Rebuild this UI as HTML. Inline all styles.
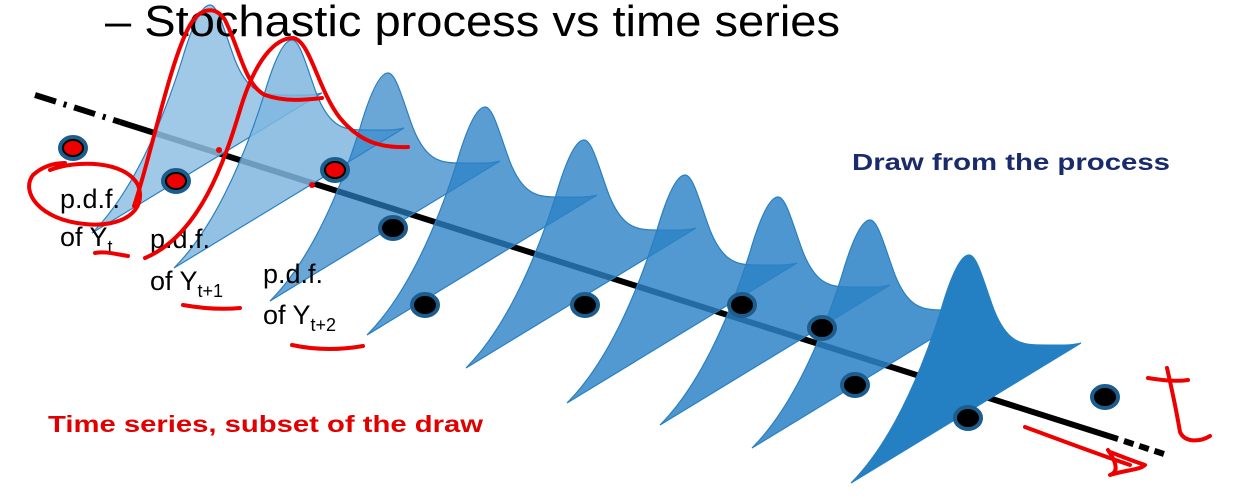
<!DOCTYPE html>
<html><head><meta charset="utf-8"><style>
html,body{margin:0;padding:0;background:#fff;}
svg{display:block;}
text{font-family:"Liberation Sans",sans-serif;}
</style></head><body>
<svg width="1255" height="503" viewBox="0 0 1255 503" xmlns="http://www.w3.org/2000/svg">
<defs>
<path id="pdf" d="M-118,228 C-80,190 -50,125 -28,55 C-16,14 -7,0 0,0 C8,0 14,25 25,55 C37,85 50,90 70,90 C88,90 102,91 112,88 Z"/>
</defs>
<line x1="35" y1="95" x2="120" y2="122" stroke="#000" stroke-width="6" stroke-dasharray="22,8,3,8"/>
<line x1="120" y1="122" x2="1118" y2="439" stroke="#000" stroke-width="6"/>
<line x1="1124" y1="441" x2="1167" y2="455" stroke="#000" stroke-width="6" stroke-dasharray="10,6"/>
<use href="#pdf" x="210" y="5" fill="#8fbfe3" fill-opacity="0.85" stroke="#2a7fc0" stroke-width="1.2"/>
<use href="#pdf" x="292" y="40" fill="#7fb6df" fill-opacity="0.85" stroke="#2a7fc0" stroke-width="1.2"/>
<use href="#pdf" x="388" y="73" fill="#2b82c6" fill-opacity="0.7" stroke="#2a7fc0" stroke-width="1.2"/>
<use href="#pdf" x="485" y="107" fill="#2b82c6" fill-opacity="0.78" stroke="#2a7fc0" stroke-width="1.2"/>
<use href="#pdf" x="584" y="140" fill="#2b82c6" fill-opacity="0.8" stroke="#2a7fc0" stroke-width="1.2"/>
<use href="#pdf" x="685" y="175" fill="#2b82c6" fill-opacity="0.82" stroke="#2a7fc0" stroke-width="1.2"/>
<use href="#pdf" x="778" y="197" fill="#2b82c6" fill-opacity="0.84" stroke="#2a7fc0" stroke-width="1.2"/>
<use href="#pdf" x="870" y="220" fill="#2b82c6" fill-opacity="0.86" stroke="#2a7fc0" stroke-width="1.2"/>
<use href="#pdf" x="969" y="255" fill="#2580c3" stroke="#2580c3" stroke-width="1.2"/>
<g fill="#000" stroke="#1d5d8e" stroke-width="4">
<ellipse cx="73" cy="148" rx="13" ry="11"/>
<ellipse cx="176" cy="181" rx="13" ry="11"/>
<ellipse cx="335" cy="170" rx="13" ry="11"/>
<ellipse cx="393" cy="228" rx="13" ry="11"/>
<ellipse cx="425" cy="305" rx="13" ry="11"/>
<ellipse cx="585" cy="305" rx="13" ry="11"/>
<ellipse cx="742" cy="305" rx="13" ry="11"/>
<ellipse cx="822" cy="328" rx="13" ry="11"/>
<ellipse cx="855" cy="385" rx="13" ry="11"/>
<ellipse cx="968" cy="418" rx="13" ry="11"/>
<ellipse cx="1105" cy="397" rx="13" ry="11"/>
</g>
<text x="105" y="36" font-size="44" fill="#000" textLength="735" lengthAdjust="spacingAndGlyphs">– Stochastic process vs time series</text>
<text x="852" y="170" font-size="23" font-weight="bold" fill="#1a2b6b" textLength="318" lengthAdjust="spacingAndGlyphs">Draw from the process</text>
<text x="48" y="432" font-size="23" font-weight="bold" fill="#e00000" textLength="435" lengthAdjust="spacingAndGlyphs">Time series, subset of the draw</text>
<g font-size="27" fill="#000">
<text x="60" y="208">p.d.f.</text>
<text x="60" y="246">of Y<tspan font-size="18" dy="7">t</tspan></text>
<text x="150" y="248">p.d.f.</text>
<text x="150" y="290">of Y<tspan font-size="18" dy="7">t+1</tspan></text>
<text x="263" y="283">p.d.f.</text>
<text x="263" y="324">of Y<tspan font-size="18" dy="7">t+2</tspan></text>
</g>
<g fill="none" stroke="#ee0000" stroke-width="4" stroke-linecap="round" stroke-linejoin="round">
<path d="M134,206 C150,160 170,60 190,25 C200,8 215,5 225,20 C240,50 245,85 265,95 C285,102 305,100 322,98"/>
<path d="M145,258 C200,235 225,160 240,110 C255,60 275,38 293,38 C310,40 318,90 340,118 C360,142 380,148 408,147"/>
<path d="M50,170 C75,160 125,160 138,185 C148,212 120,228 85,224 C40,220 20,192 33,175 C43,166 55,163 65,163"/>
<path d="M95,253 C105,251 115,254 128,256"/>
<path d="M183,305 C200,308 220,310 240,308"/>
<path d="M292,345 C315,350 340,350 363,346"/>
<path d="M1148,378 C1160,380 1175,382 1188,380"/>
<path d="M1167,368 C1172,390 1178,420 1180,432 C1185,443 1200,442 1210,436"/>
<path d="M1025,427 C1060,440 1100,455 1130,465 M1108,450 C1115,460 1120,472 1110,475 C1125,470 1140,470 1145,465 C1130,460 1118,455 1110,452"/>
</g>
<g fill="#ee0000">
<ellipse cx="73" cy="148" rx="9" ry="7"/>
<ellipse cx="176" cy="181" rx="9" ry="7"/>
<ellipse cx="335" cy="170" rx="9" ry="7"/>
<circle cx="219" cy="150" r="3"/>
<circle cx="312" cy="185" r="3"/>
</g>
</svg>
</body></html>
